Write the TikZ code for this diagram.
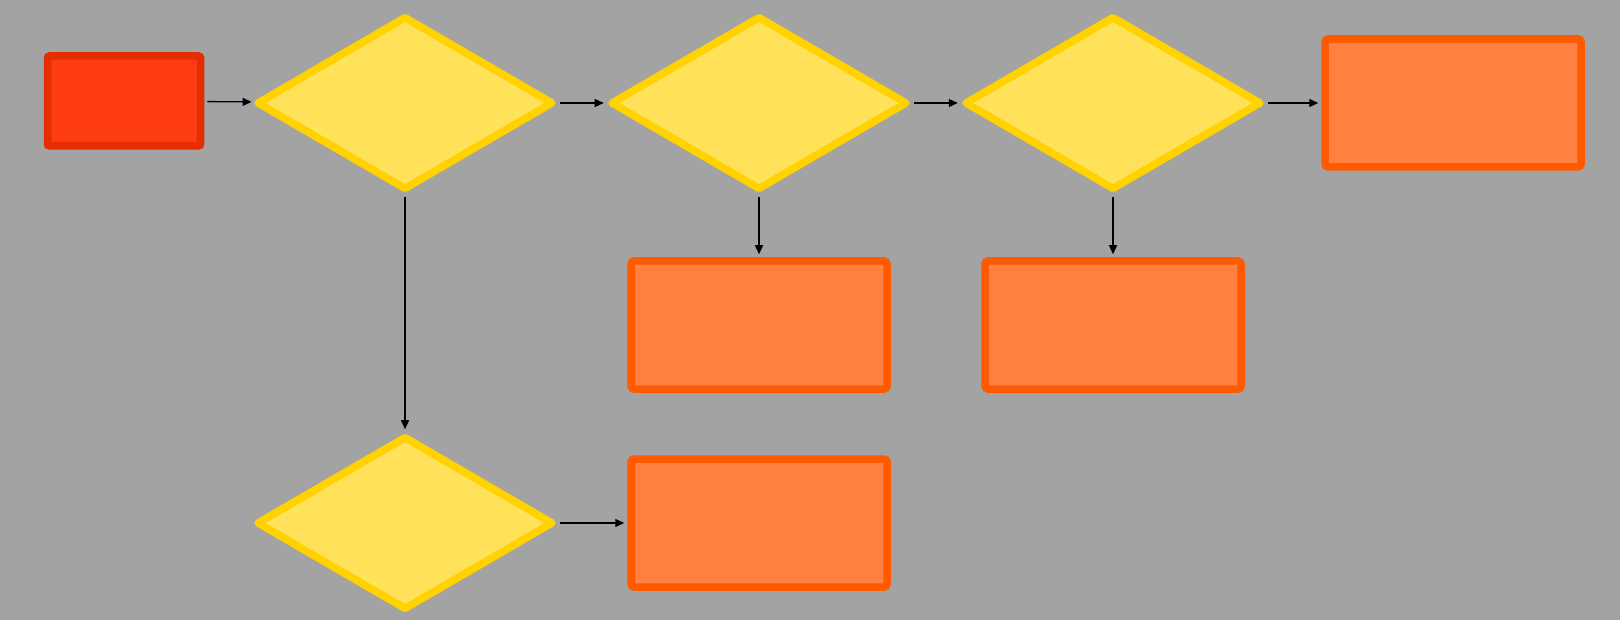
\documentclass[tikz,border=0pt]{standalone}
\usetikzlibrary{shapes.geometric,arrows.meta}
\definecolor{fond}{HTML}{A3A3A3}
\definecolor{jaune}{HTML}{FFE15A}
\definecolor{jauneBord}{HTML}{FFD200}
\definecolor{rouge}{HTML}{FF3D12}
\definecolor{rougeBord}{HTML}{E52E00}
\definecolor{orange}{HTML}{FF8040}
\definecolor{orangeBord}{HTML}{FF5A00}
\tikzset{
	decision/.style={diamond, draw=jauneBord, fill=jaune, line width=7.5pt, line join=round, minimum width=297pt, minimum height=174pt, inner sep=0pt},
	debut/.style={rectangle, draw=rougeBord, fill=rouge, line width=7.5pt, rounded corners=2pt, minimum width=153pt, minimum height=90pt, inner sep=0pt},
	issue/.style={rectangle, draw=orangeBord, fill=orange, line width=7.5pt, rounded corners=3pt, minimum width=256pt, minimum height=128pt, inner sep=0pt},
	fleche/.style={line width=1.3pt, -{Triangle[length=9pt,width=8pt]}, shorten <=3pt, shorten >=3pt}
}
\begin{document}
\begin{tikzpicture}[x=1pt,y=-1pt]
		\fill [fond] (0,0) rectangle (1620,620);
		\useasboundingbox (0,0) rectangle (1620,620);
		
		\node [debut] (D) at (124, 101) {};
		\node [decision] (Q1) at (405, 103) {};
		\node [decision] (Q2) at (759, 103) {};
		\node [decision] (Q3) at (1113, 103) {};
		\node [decision] (Q4) at (405, 523) {};
		
		\node [issue] (R1) at (1453, 103) {};
		\node [issue] (R2) at (759, 325) {};
		\node [issue] (R3) at (1113, 325) {};
		\node [issue] (R4) at (759, 523) {};
		
		\draw [fleche] (D) -- (Q1);
		\draw [fleche] (Q1) -- (Q2);
		\draw [fleche] (Q2) -- (Q3);
		\draw [fleche] (Q3) -- (R1);
		\draw [fleche] (Q1) -- (Q4);
		\draw [fleche] (Q2) -- (R2);
		\draw [fleche] (Q3) -- (R3);
		\draw [fleche] (Q4) -- (R4);
\end{tikzpicture}
\end{document}
